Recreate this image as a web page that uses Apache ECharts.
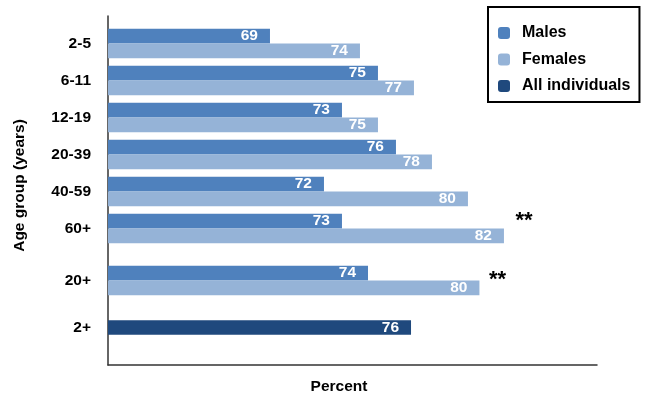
<!DOCTYPE html>
<html>
<head>
<meta charset="utf-8">
<script src="https://cdn.jsdelivr.net/npm/echarts@6/dist/echarts.min.js"></script>
<style>html,body{margin:0;padding:0;background:#fff}#c{width:653px;height:400px}</style>
</head>
<body>
<div id="c"></div>
<script>
// ---- data ----
var ageGroups = ['2-5', '6-11', '12-19', '20-39', '40-59', '60+'];
var malesByAge = [69, 75, 73, 76, 72, 73];
var femalesByAge = [74, 77, 75, 78, 80, 82];
var adultGroup = ['20+'];
var malesAdult = [74];
var femalesAdult = [80];
var allGroup = ['2+'];
var allIndividuals = [76];
var seriesNames = ['Males', 'Females', 'All individuals'];
var significantMarks = [{ group: '60+', value: 82 }, { group: '20+', value: 80 }];

var FONT = 'Liberation Sans, Arial, sans-serif';
var C_M = '#4f81bd', C_F = '#95b3d7', C_A = '#1f497d';
var BW = 14.7;

var chart = echarts.init(document.getElementById('c'), null, { renderer: 'canvas' });

function barLabel() {
  return { show: true, position: 'insideRight', distance: 12, color: '#fff',
    fontWeight: 'bold', fontSize: 15.5, fontFamily: FONT };
}
function starMark(group, value, dx, dy) {
  return {
    symbol: 'circle', symbolSize: 0, silent: true,
    data: [{ coord: [value, group] }],
    label: { show: true, formatter: '**', position: 'inside', offset: [dx, dy],
      color: '#000', fontWeight: 'bold', fontSize: 22, fontFamily: FONT }
  };
}
function catAxis(idx, data) {
  return { type: 'category', gridIndex: idx, data: data, inverse: true,
    axisLine: { show: false }, axisTick: { show: false }, splitLine: { show: false },
    axisLabel: { color: '#000', fontWeight: 'bold', fontSize: 15.5, fontFamily: FONT, margin: 17 } };
}
function hiddenX(idx, max) {
  return { type: 'value', gridIndex: idx, min: 60, max: max, show: false, splitLine: { show: false } };
}

var option = {
  animation: false,
  backgroundColor: '#fff',
  textStyle: { fontFamily: FONT },
  legend: {
    data: seriesNames, orient: 'vertical', left: 488, top: 7,
    borderColor: '#000', borderWidth: 2, padding: [18, 9, 8, 10],
    itemWidth: 12, itemHeight: 12, itemGap: 10.5, icon: 'roundRect',
    textStyle: { color: '#000', fontWeight: 'bold', fontSize: 16, fontFamily: FONT, padding: [0, 0, 0, 7] }
  },
  grid: [
    { left: 108, right: 56, top: 16, bottom: 34 },
    { left: 108, right: 56, top: 25, height: 222 },
    { left: 108, right: 56, top: 247, height: 67 },
    { left: 108, right: 56, top: 314, height: 27 }
  ],
  xAxis: [
    { type: 'value', gridIndex: 0, min: 60, max: 87.17,
      axisLine: { show: true, lineStyle: { color: '#333', width: 1.5 } },
      axisTick: { show: false }, axisLabel: { show: false }, splitLine: { show: false },
      name: 'Percent', nameLocation: 'middle', nameGap: 14,
      nameTextStyle: { color: '#000', fontWeight: 'bold', fontSize: 15.5, fontFamily: FONT, padding: [0, 27, 0, 0] } },
    hiddenX(1, 87.17),
    hiddenX(2, 86.33),
    hiddenX(3, 85.82)
  ],
  yAxis: [
    { type: 'value', gridIndex: 0, min: 0, max: 1,
      axisLine: { show: true, lineStyle: { color: '#333', width: 1.5 } },
      axisTick: { show: false }, axisLabel: { show: false }, splitLine: { show: false },
      name: 'Age group (years)', nameLocation: 'middle', nameRotate: 90, nameGap: 80,
      nameTextStyle: { color: '#000', fontWeight: 'bold', fontSize: 15.5, fontFamily: FONT, padding: [0, 0, 0, 10] } },
    catAxis(1, ageGroups),
    catAxis(2, adultGroup),
    catAxis(3, allGroup)
  ],
  series: [
    { name: seriesNames[0], type: 'bar', xAxisIndex: 1, yAxisIndex: 1, data: malesByAge,
      barWidth: BW, barGap: '0%', itemStyle: { color: C_M }, label: barLabel() },
    { name: seriesNames[1], type: 'bar', xAxisIndex: 1, yAxisIndex: 1, data: femalesByAge,
      barWidth: BW, barGap: '0%', itemStyle: { color: C_F }, label: barLabel(),
      markPoint: starMark(significantMarks[0].group, significantMarks[0].value, 20, -15) },
    { name: seriesNames[0], type: 'bar', xAxisIndex: 2, yAxisIndex: 2, data: malesAdult,
      barWidth: BW, barGap: '0%', itemStyle: { color: C_M }, label: barLabel() },
    { name: seriesNames[1], type: 'bar', xAxisIndex: 2, yAxisIndex: 2, data: femalesAdult,
      barWidth: BW, barGap: '0%', itemStyle: { color: C_F }, label: barLabel(),
      markPoint: starMark(significantMarks[1].group, significantMarks[1].value, 18, -8) },
    { name: seriesNames[2], type: 'bar', xAxisIndex: 3, yAxisIndex: 3, data: allIndividuals,
      barWidth: BW, itemStyle: { color: C_A }, label: barLabel() }
  ]
};
chart.setOption(option);
</script>
</body>
</html>
